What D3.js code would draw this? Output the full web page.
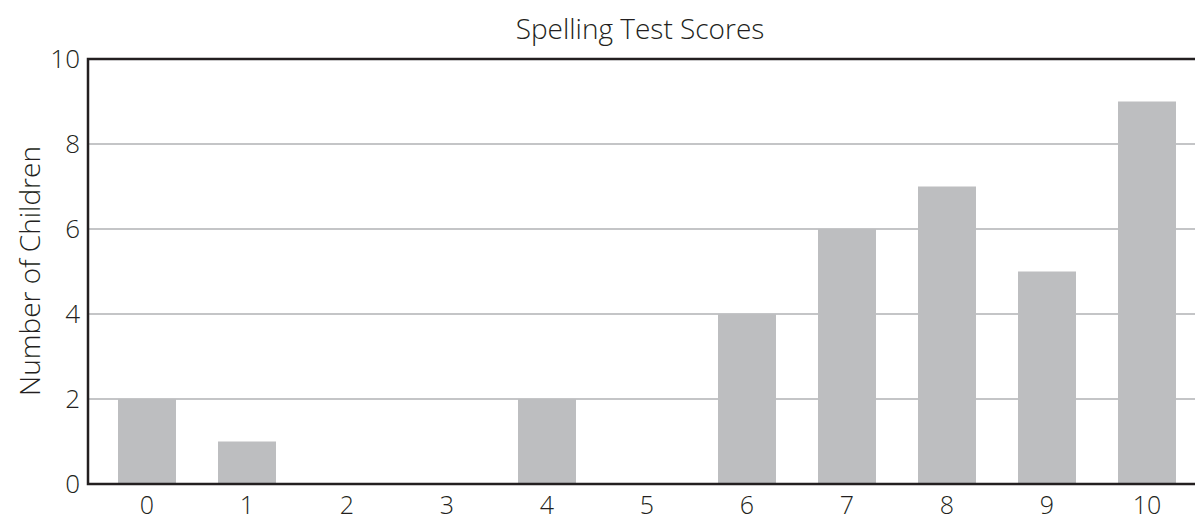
<!DOCTYPE html>
<html>
<head>
<meta charset="utf-8">
<script src="https://cdn.jsdelivr.net/npm/d3@7"></script>
<style>
  body { margin: 0; background: #fff; }
  svg text { font-family: "Open Sans", Lato, sans-serif; font-weight: 300; fill: #231f20; }
</style>
</head>
<body>
<div id="chart"></div>
<script>
// chart data
var scores = ["0", "1", "2", "3", "4", "5", "6", "7", "8", "9", "10"];
var children = [2, 1, 0, 0, 2, 0, 4, 6, 7, 5, 9];
var yTicks = [0, 2, 4, 6, 8, 10];

var width = 1195, height = 523;
var plotLeft = 88, plotRight = 1197, plotTop = 59, plotBottom = 484;

var svg = d3.select("#chart").append("svg")
    .attr("width", width)
    .attr("height", height);

var x = d3.scaleBand()
    .domain(scores)
    .range([97, plotRight])
    .paddingInner(0.42)
    .paddingOuter(0.21);

var y = d3.scaleLinear()
    .domain([0, 10])
    .range([plotBottom, plotTop]);

//gridlines first so bars sit on top
svg.append("g")
    .selectAll("line")
    .data(yTicks.filter(function (d) { return d > 0 && d < 10; }))
    .enter().append("line")
    .attr("x1", plotLeft)
    .attr("x2", width)
    .attr("y1", function (d) { return y(d); })
    .attr("y2", function (d) { return y(d); })
    .attr("stroke", "#c4c5c7")
    .attr("stroke-width", 2);

svg.append("g")
    .selectAll("rect")
    .data(children)
    .enter().append("rect")
    .attr("x", function (d, i) { return x(scores[i]); })
    .attr("y", function (d) { return y(d); })
    .attr("width", x.bandwidth())
    .attr("height", function (d) { return y(0) - y(d); })
    .attr("fill", "#bdbec0");

//frame: left, top and bottom lines
svg.append("path")
    .attr("d", "M" + width + "," + y(10) + "H" + plotLeft + "V" + y(0) + "H" + width)
    .attr("fill", "none")
    .attr("stroke", "#231f20")
    .attr("stroke-width", 2.5);

svg.append("g")
    .selectAll("text")
    .data(yTicks)
    .enter().append("text")
    .attr("x", 80)
    .attr("y", function (d) { return y(d); })
    .attr("dy", "0.36em")
    .attr("text-anchor", "end")
    .attr("font-size", "26px")
    .text(function (d) { return d; });

svg.append("g")
    .selectAll("text")
    .data(scores)
    .enter().append("text")
    .attr("x", function (d) { return x(d) + x.bandwidth() / 2; })
    .attr("y", 514)
    .attr("text-anchor", "middle")
    .attr("font-size", "25px")
    .text(function (d) { return d; });

svg.append("text")
    .attr("x", 640)
    .attr("y", 39)
    .attr("text-anchor", "middle")
    .attr("font-size", "28px")
    .text("Spelling Test Scores");

svg.append("text")
    .attr("transform", "translate(40,271) rotate(-90)")
    .attr("text-anchor", "middle")
    .attr("font-size", "28px")
    .text("Number of Children");
</script>
</body>
</html>
